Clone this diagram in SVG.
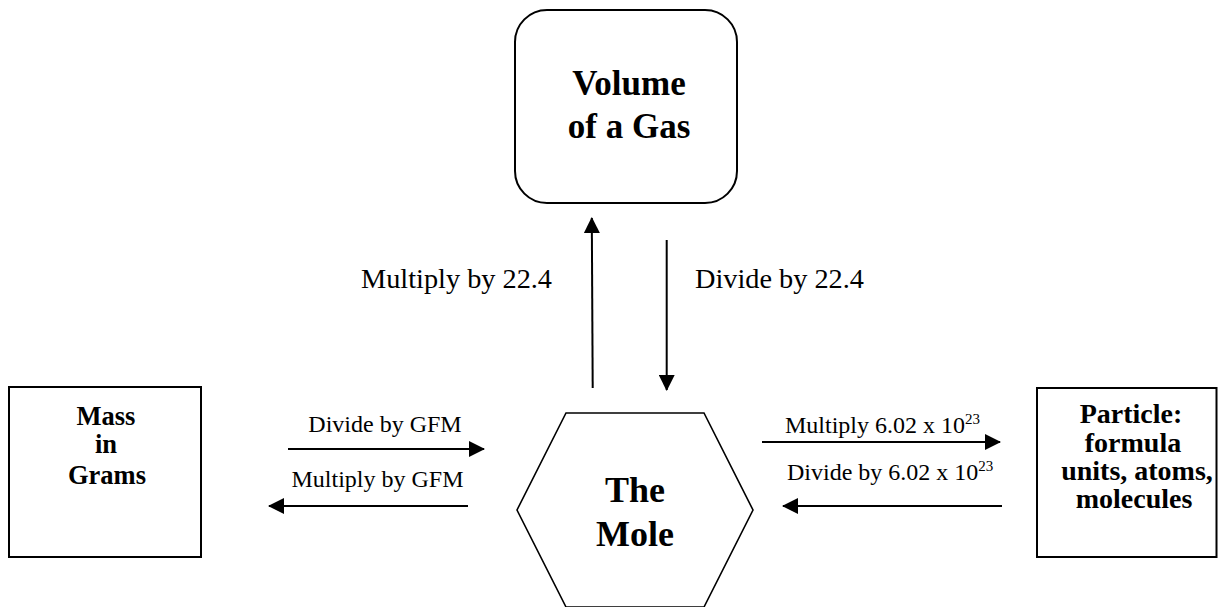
<svg xmlns="http://www.w3.org/2000/svg" width="1218" height="607" viewBox="0 0 1218 607">
<style>
.box{fill:#fff;stroke:#000;stroke-width:2}
.hex{fill:#fff;stroke:#000;stroke-width:1.6}
.t{font-family:"Liberation Serif","Times New Roman",serif;fill:#000}
.b{font-weight:bold;text-anchor:middle}
.lbl{font-size:24px}
.lbl28{font-size:28.3px}
.con{stroke:#000;stroke-width:2;fill:none}
</style>
<defs>
<marker id="ah" markerWidth="16" markerHeight="16" refX="15" refY="8" orient="auto" markerUnits="userSpaceOnUse">
<path d="M0,0 L16,8 L0,16 Z" fill="#000"/>
</marker>
</defs>
<rect width="1218" height="607" fill="#fff"/>
<g id="volume">
<rect class="box" x="515" y="10" width="222" height="193" rx="32" ry="32"/>
<text class="t b" font-size="35" x="629" y="95">Volume</text>
<text class="t b" font-size="35" x="629" y="138">of a Gas</text>
</g>
<g id="mass">
<rect class="box" x="9" y="387" width="192" height="170"/>
<text class="t b" font-size="26.5" x="106" y="425">Mass</text>
<text class="t b" font-size="26.5" x="106" y="453">in</text>
<text class="t b" font-size="26.5" x="107" y="484">Grams</text>
</g>
<g id="particle">
<rect class="box" x="1037" y="388" width="179.5" height="169"/>
<text class="t b" font-size="28" x="1131" y="423">Particle:</text>
<text class="t b" font-size="28" x="1133" y="452">formula</text>
<text class="t b" font-size="28" x="1137" y="480">units, atoms,</text>
<text class="t b" font-size="28" x="1134" y="508">molecules</text>
</g>
<g id="mole">
<polygon class="hex" points="566,413 704,413 753,510 704,607 566,607 517,510"/>
<text class="t b" font-size="36" x="635" y="502">The</text>
<text class="t b" font-size="36" x="635" y="546">Mole</text>
</g>
<g id="connectors">
<line class="con" x1="592.7" y1="388" x2="591.8" y2="218" marker-end="url(#ah)"/>
<line class="con" x1="666.7" y1="240" x2="666.7" y2="390" marker-end="url(#ah)"/>
<line class="con" x1="288" y1="449" x2="484" y2="449" marker-end="url(#ah)"/>
<line class="con" x1="468" y1="506" x2="269" y2="506" marker-end="url(#ah)"/>
<line class="con" x1="762" y1="442" x2="1000" y2="442" marker-end="url(#ah)"/>
<line class="con" x1="1002" y1="506" x2="783" y2="506" marker-end="url(#ah)"/>
</g>
<g id="labels">
<text class="t lbl28" x="361" y="288">Multiply by 22.4</text>
<text class="t lbl28" x="695" y="288">Divide by 22.4</text>
<text class="t lbl" x="385" y="432" text-anchor="middle">Divide by GFM</text>
<text class="t lbl" x="377.5" y="487" text-anchor="middle">Multiply by GFM</text>
<text class="t lbl" x="785" y="433">Multiply 6.02 x 10<tspan font-size="15" dy="-9">23</tspan></text>
<text class="t lbl" x="787" y="480">Divide by 6.02 x 10<tspan font-size="15" dy="-9">23</tspan></text>
</g>
</svg>
